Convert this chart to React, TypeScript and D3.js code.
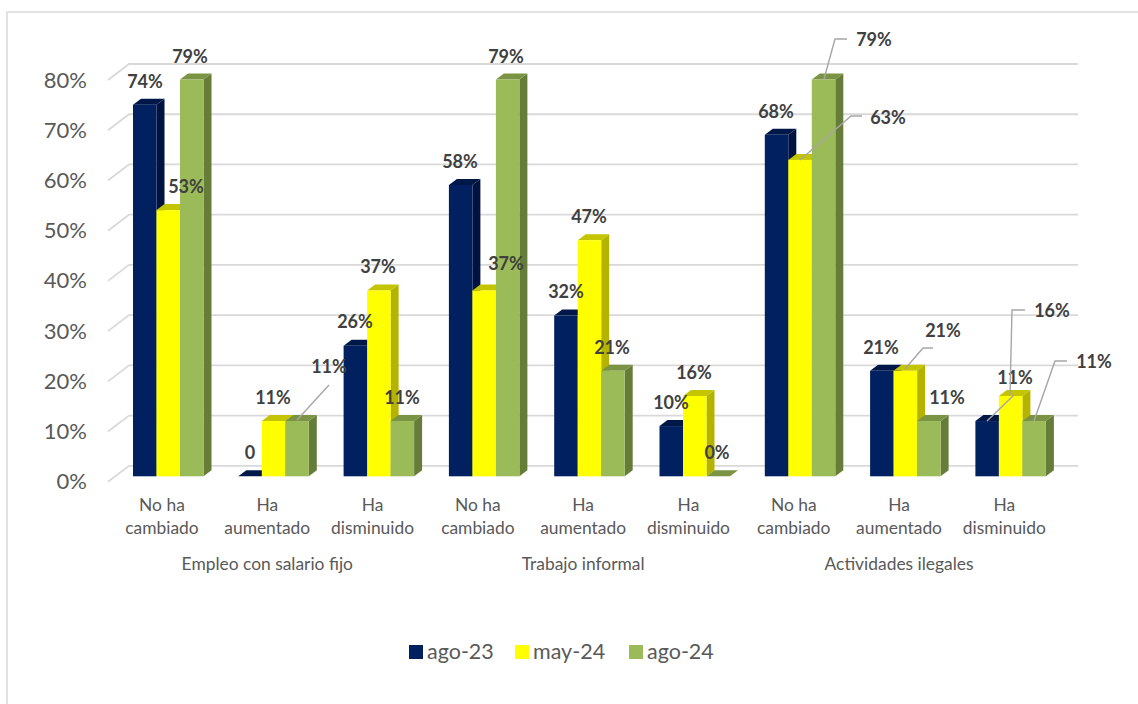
import React from "react";
import * as d3 from "d3";

const groups = ["Empleo con salario fijo", "Trabajo informal", "Actividades ilegales"];
const answers = [["No ha", "cambiado"], ["Ha", "aumentado"], ["Ha", "disminuido"]];
const seriesNames = ["ago-23", "may-24", "ago-24"];
const ago23 = [74, 0, 26, 58, 32, 10, 68, 21, 11];
const may24 = [53, 11, 37, 37, 47, 16, 63, 21, 16];
const ago24 = [79, 11, 11, 79, 21, 0, 79, 11, 11];
const seriesValues = [ago23, may24, ago24];
const yTicks = [0, 10, 20, 30, 40, 50, 60, 70, 80];

const faces = [
  { front: "#002060", top: "#001848", side: "#001340" },
  { front: "#FFFF00", top: "#C4C400", side: "#B3B300" },
  { front: "#9BBB59", top: "#7A9444", side: "#667D3A" },
];

// hand-placed data labels: [category, series, centre x, centre y, leader path or null]
const placedLabels: [number, number, number, number, [number, number][] | null][] = [
  [0, 0, 145, 83, null], [0, 1, 186, 188, null], [0, 2, 190, 58, null],
  [1, 0, 250, 454, null], [1, 1, 273, 399, null], [1, 2, 329, 368, [[297, 420], [329, 385]]],
  [2, 0, 355, 323, null], [2, 1, 378, 268, null], [2, 2, 402, 399, null],
  [3, 0, 460, 163, null], [3, 1, 506, 265, null], [3, 2, 506, 58, null],
  [4, 0, 566, 293, null], [4, 1, 589, 218, null], [4, 2, 612, 349, null],
  [5, 0, 671, 404, null], [5, 1, 694, 374, null], [5, 2, 717, 454, null],
  [6, 0, 776, 113, null], [6, 1, 888, 119, [[800, 160], [851, 116], [862, 116]]], [6, 2, 874, 41, [[824, 79], [835, 39], [847, 39]]],
  [7, 0, 881, 349, null], [7, 1, 943, 332, [[905, 369], [923, 348], [933, 348]]], [7, 2, 947, 399, null],
  [8, 0, 1015, 379, [[987, 421], [1014, 395]]], [8, 1, 1052, 312, [[1010, 395], [1012, 310], [1025, 310]]], [8, 2, 1094, 363, [[1034, 421], [1055, 361], [1067, 361]]],
];

const font = "Lato, sans-serif";
const depth = { x: 8, y: 6 };
const wall = { x: 21, y: 16 };

export default function App() {
  const y = d3.scaleLinear().domain([0, 80]).range([476.3, 74.5]);
  const x = d3.scaleBand<number>().domain(d3.range(9)).range([115.7, 1063.4]);
  const offset = d3.scaleBand<number>().domain([0, 1, 2]).range([17.3, 87.8]);
  const labelX = d3.scaleBand<number>().domain(d3.range(9)).range([109.3, 1057]);
  const legendX = [409, 515, 629];

  return (
    <svg width={1138} height={704} style={{ position: "absolute", left: 0, top: 0, fontFamily: font }}>
      <rect x={7} y={12} width={1140} height={720} fill="#fff" stroke="#D9D9D9" strokeWidth={1.5} />
      {yTicks.map((t) => (
        <g key={t}>
          <polyline
            points={`108,${y(t) + 5.5} ${108 + wall.x},${y(t) + 5.5 - wall.y} 1078,${y(t) + 5.5 - wall.y}`}
            fill="none" stroke="#D9D9D9" strokeWidth={1.8}
          />
          <text x={87} y={y(t) + 7.5} textAnchor="end" dominantBaseline="middle" fontSize={22} fill="#595959">
            {t}%
          </text>
        </g>
      ))}
      {d3.range(9).map((c) => (
        <g key={c}>
          {[0, 1, 2].map((s) => {
            const x0 = x(c)! + offset(s)!;
            const w = offset.bandwidth();
            const top = y(seriesValues[s][c]);
            const base = y(0);
            const f = faces[s];
            return (
              <g key={s}>
                <path d={`M${x0 + w},${top} l${depth.x},${-depth.y} V${base - depth.y} l${-depth.x},${depth.y} Z`} fill={f.side} />
                <path d={`M${x0},${top} l${depth.x},${-depth.y} h${w} l${-depth.x},${depth.y} Z`} fill={f.top} />
                <rect x={x0} y={top} width={w} height={base - top} fill={f.front} />
              </g>
            );
          })}
          <text textAnchor="middle" fontSize={17.4} fill="#595959">
            {answers[c % 3].map((line, i) => (
              <tspan key={i} x={labelX(c)! + labelX.bandwidth() / 2} y={511 + i * 23}>{line}</tspan>
            ))}
          </text>
        </g>
      ))}
      {groups.map((g, i) => (
        <text key={g} x={labelX(i * 3 + 1)! + labelX.bandwidth() / 2} y={570} textAnchor="middle" fontSize={17.4} fill="#595959">
          {g}
        </text>
      ))}
      {placedLabels.map(([c, s, lx, ly, leader]) => (
        <g key={`${c}-${s}`}>
          {leader && <polyline points={leader.map((p) => p.join(",")).join(" ")} fill="none" stroke="#A6A6A6" strokeWidth={1.4} />}
          <text x={lx} y={ly} textAnchor="middle" dominantBaseline="middle" fontSize={18} fontWeight={700} fill="#404040">
            {c === 1 && s === 0 ? "0" : `${seriesValues[s][c]}%`}
          </text>
        </g>
      ))}
      {seriesNames.map((n, i) => (
        <g key={i}>
          <rect x={legendX[i]} y={645} width={14} height={14} fill={faces[i].front} />
          <text x={legendX[i] + 18} y={659} fontSize={21.5} fill="#595959">{n}</text>
        </g>
      ))}
    </svg>
  );
}
